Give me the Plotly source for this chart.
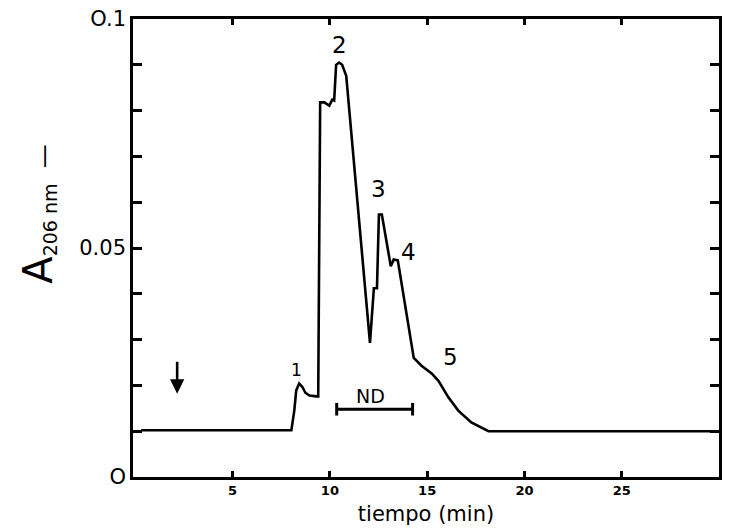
import plotly.graph_objects as go

# ---- data ----
time_min = [0.3, 8.02, 8.17, 8.27, 8.42, 8.58, 8.74, 8.95, 9.30, 9.40, 9.50, 9.71, 9.97,
            10.12, 10.22, 10.32, 10.47, 10.63, 10.84, 12.06, 12.26, 12.42, 12.52, 12.67,
            13.13, 13.28, 13.49, 14.31, 14.71, 15.23, 15.58, 16.09, 16.60, 17.27, 18.15, 29.9]
absorbance = [0.0102, 0.0102, 0.0145, 0.0189, 0.0204, 0.0197, 0.0184, 0.0178, 0.0176, 0.0176,
              0.0818, 0.0818, 0.0811, 0.0824, 0.0822, 0.0900, 0.0905, 0.0900, 0.0876, 0.0293,
              0.0412, 0.0412, 0.0573, 0.0573, 0.0460, 0.0475, 0.0473, 0.0260, 0.0243, 0.0226,
              0.0210, 0.0174, 0.0145, 0.0119, 0.0100, 0.0100]

peak_labels = ["1", "2", "3", "4", "5"]
peak_t = [8.27, 10.47, 12.52, 14.05, 16.2]
peak_v = [0.0234, 0.0944, 0.0629, 0.0492, 0.0262]

nd_range = [10.35, 14.25]
nd_level = 0.0148

injection_t = 2.15
injection_top = 0.0255
injection_bottom = 0.0182

x_tick_vals = [5, 10, 15, 20, 25]
x_tick_text = ["5", "10", "15", "20", "25"]
y_tick_vals = [i / 100 for i in range(11)]
y_tick_text = ["O", "", "", "", "", "0.05", "", "", "", "", "O.1"]

FONT = "DejaVu Sans"

fig = go.Figure()
fig.add_trace(go.Scatter(x=time_min, y=absorbance, mode="lines",
                         line=dict(color="black", width=2.6), hoverinfo="skip",
                         showlegend=False))
# ND bar with end caps
fig.add_trace(go.Scatter(x=nd_range, y=[nd_level, nd_level], mode="lines+markers",
                         line=dict(color="black", width=3),
                         marker=dict(symbol="line-ns", size=9,
                                     line=dict(color="black", width=3)),
                         hoverinfo="skip", showlegend=False))

annotations = []
for lab, t, v in zip(peak_labels, peak_t, peak_v):
    annotations.append(dict(x=t, y=v, text=lab, showarrow=False,
                            font=dict(family=FONT, size=17 if lab == "1" else 23,
                                      color="black")))
annotations.append(dict(x=(nd_range[0] + nd_range[1]) / 2 - 0.2, y=0.0176, text="ND",
                        showarrow=False, font=dict(family=FONT, size=19, color="black")))
annotations.append(dict(x=injection_t, y=injection_bottom, ax=injection_t, ay=injection_top,
                        xref="x", yref="y", axref="x", ayref="y", text="",
                        showarrow=True, arrowhead=2, arrowsize=1.1, arrowwidth=2.6,
                        arrowcolor="black"))
# y-axis title (rotated)
y_title = ("<span style='font-size:40px'>A</span>"
           "<sub><span style='font-size:19px'>206 nm</span></sub>"
           "<span style='font-size:24px'>  —</span>")
annotations.append(dict(xref="paper", yref="paper", x=-0.162, y=0.575,
                        text=y_title, textangle=-90, showarrow=False,
                        xanchor="center", yanchor="middle",
                        font=dict(family=FONT, size=24, color="black")))

fig.update_layout(
    width=729, height=531,
    margin=dict(l=133, r=7, t=16, b=54),
    paper_bgcolor="white", plot_bgcolor="white",
    font=dict(family=FONT, color="black"),
    annotations=annotations,
    xaxis=dict(range=[-0.12, 30.0], tickmode="array", tickvals=x_tick_vals,
               ticktext=["<b>%s</b>" % s for s in x_tick_text], ticks="inside",
               ticklen=6, tickwidth=2.6,
               tickcolor="black", showline=True, linecolor="black", linewidth=2.6,
               mirror="ticks", showgrid=False, zeroline=False,
               tickfont=dict(family=FONT, size=13, color="black"),
               title=dict(text="tiempo (min)", standoff=9,
                          font=dict(family=FONT, size=21, color="black"))),
    yaxis=dict(range=[0, 0.1], tickmode="array", tickvals=y_tick_vals,
               ticktext=y_tick_text, ticks="inside", ticklen=9, tickwidth=2.6,
               tickcolor="black", showline=True, linecolor="black", linewidth=2.6,
               mirror="ticks", showgrid=False, zeroline=False,
               tickfont=dict(family=FONT, size=21, color="black")),
)

fig.write_html("out.html")
